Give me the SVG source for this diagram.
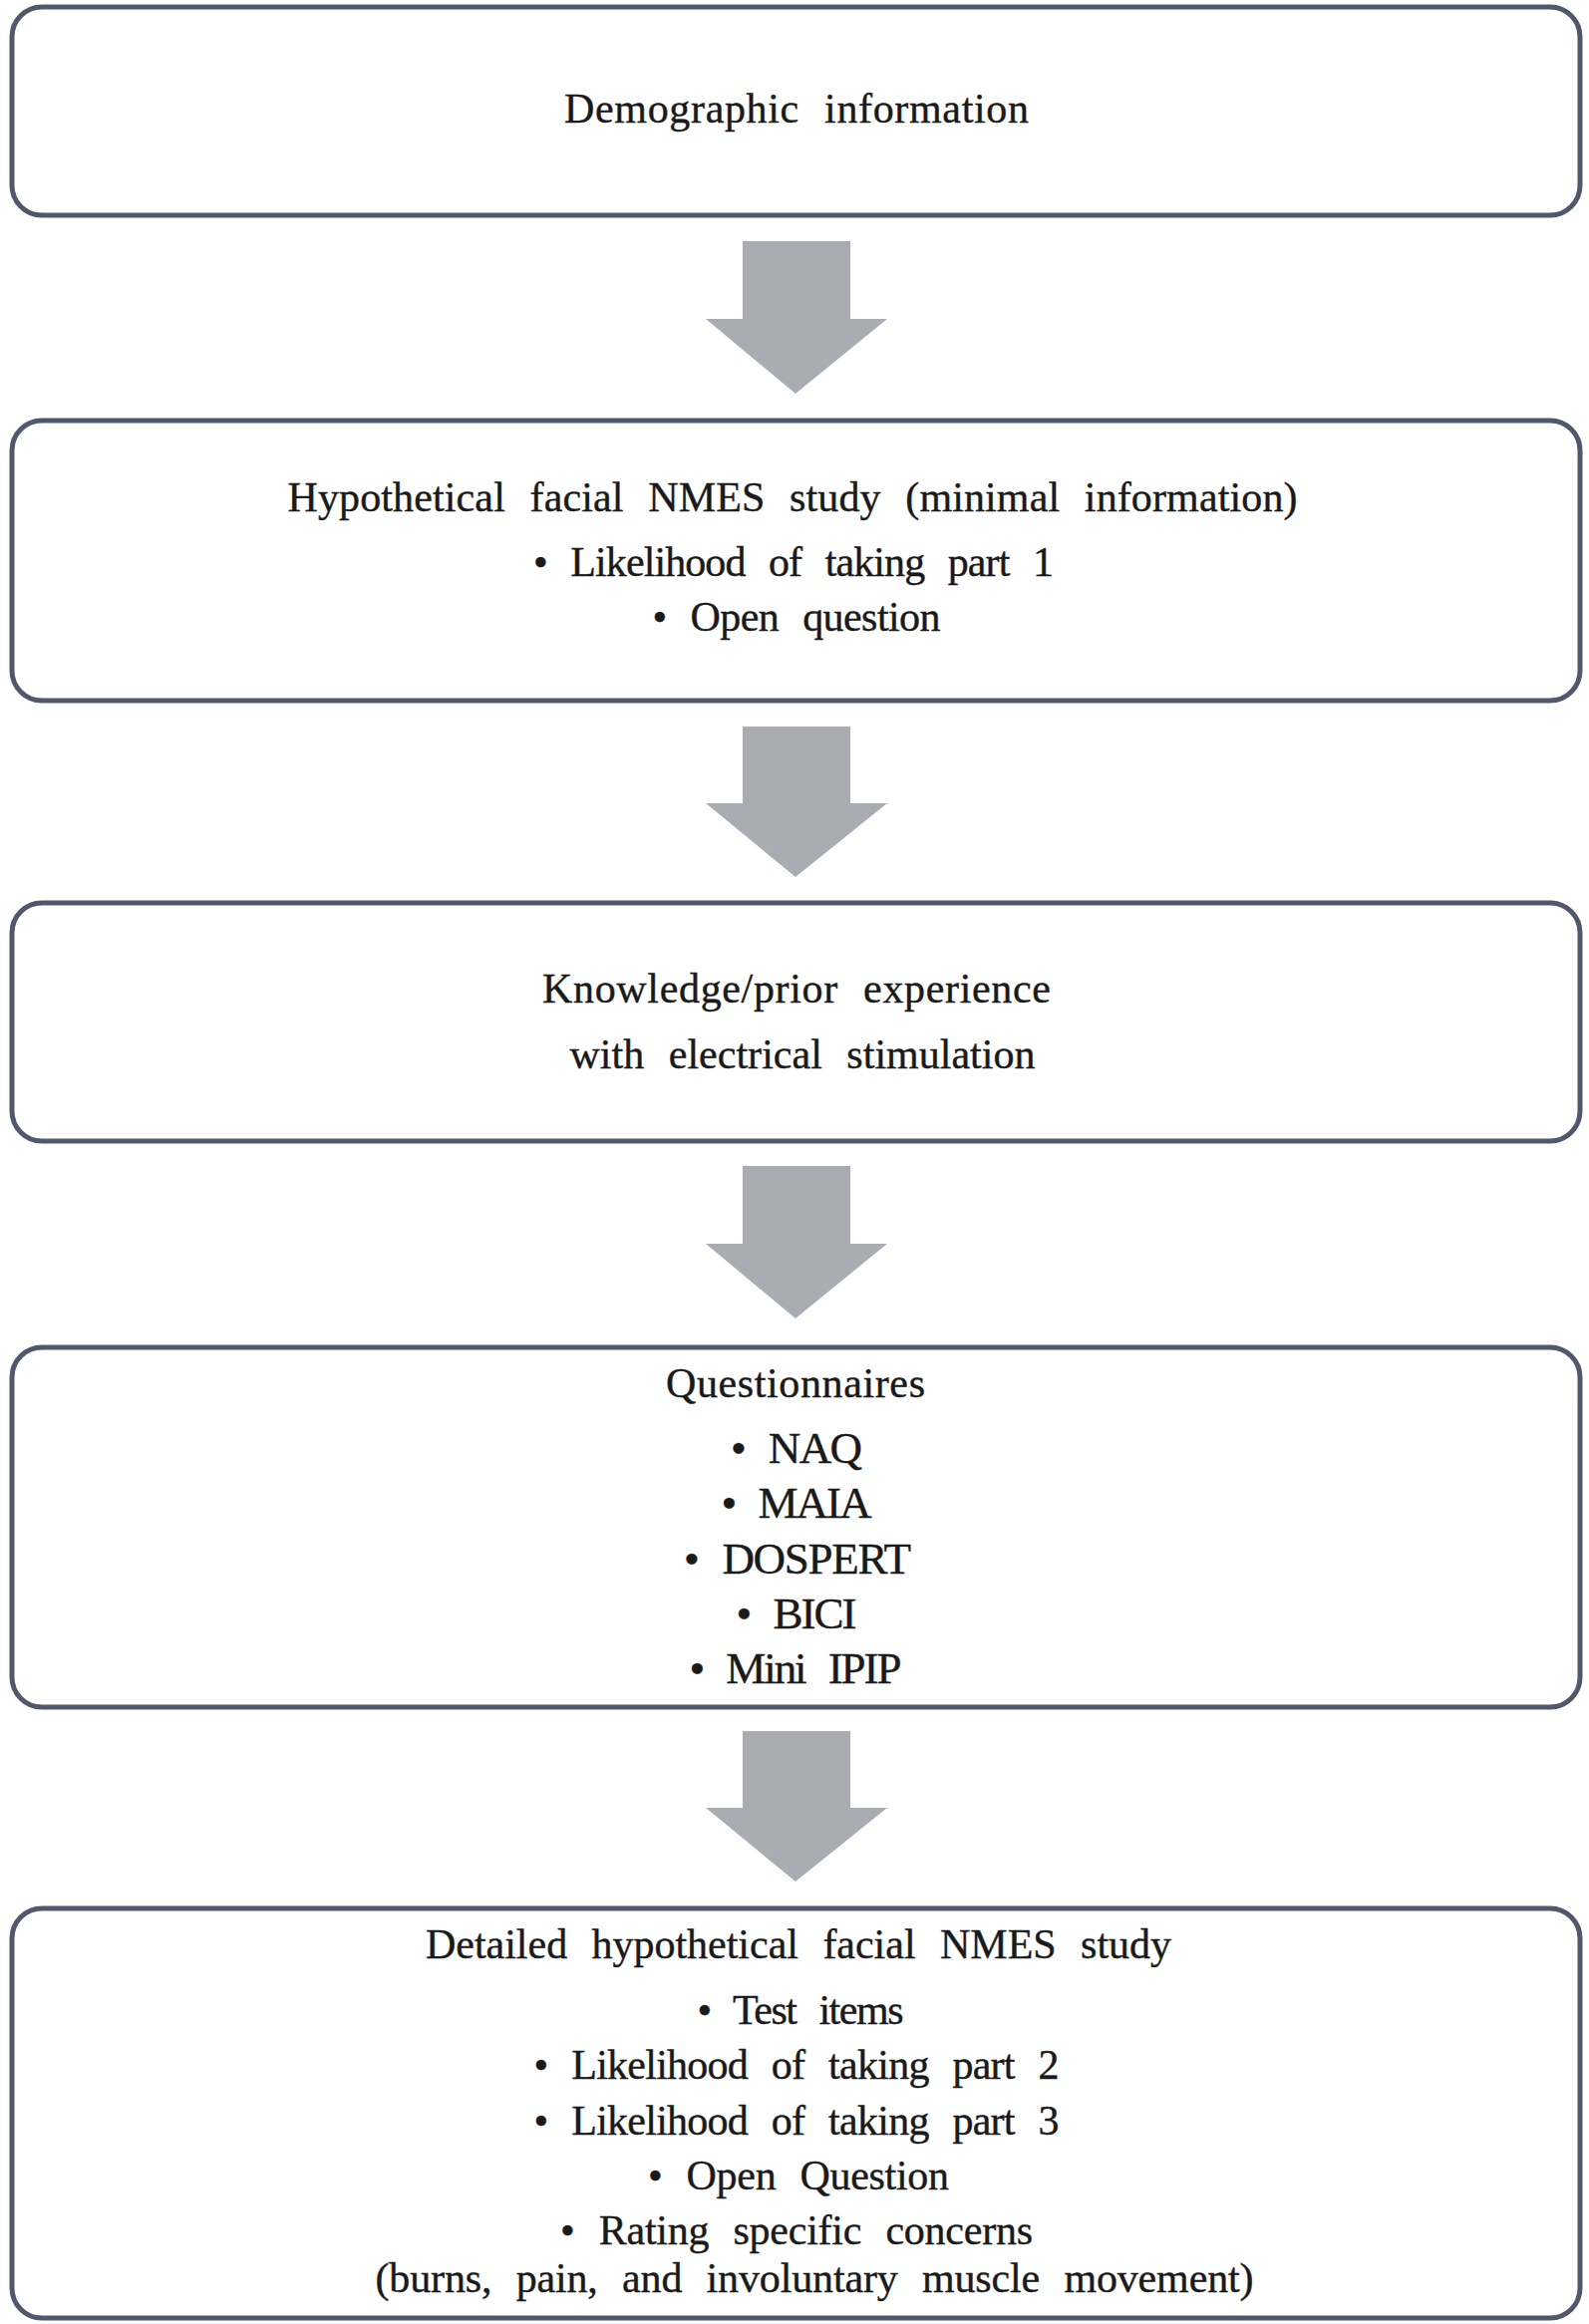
<svg xmlns="http://www.w3.org/2000/svg" width="1594" height="2332" viewBox="0 0 1594 2332">
<style>
.box{fill:#ffffff;stroke:#4f596b;stroke-width:5}
.arr{fill:#aaacb4}
.t text{fill:#1a1a1a;text-anchor:middle;word-spacing:14px;stroke:#1a1a1a;stroke-width:0.4}
</style>
<rect width="1594" height="2332" fill="#ffffff"/>
<g id="connectors">
<path class="arr" d="M745 242H853V320H890L798 395L708 320H745Z"/>
<path class="arr" d="M745 729H853V806H890L798 880L708 806H745Z"/>
<path class="arr" d="M745 1170H853V1248H890L798 1323L708 1248H745Z"/>
<path class="arr" d="M745 1737H853V1814H890L798 1888L708 1814H745Z"/>
</g>
<g class="t" font-family="'Liberation Serif', 'Times New Roman', 'DejaVu Serif', serif" font-size="42">
<g id="node1">
<rect class="box" x="12" y="7" width="1573" height="209" rx="30"/>
<text x="799" y="123" textLength="466">Demographic information</text>
</g>
<g id="node2">
<rect class="box" x="12" y="422" width="1573" height="281" rx="30"/>
<text x="795" y="513" textLength="1013">Hypothetical facial NMES study (minimal information)</text>
<text x="796" y="578" textLength="522">• Likelihood of taking part 1</text>
<text x="799" y="633" textLength="289">• Open question</text>
</g>
<g id="node3">
<rect class="box" x="12" y="906" width="1573" height="239" rx="30"/>
<text x="799" y="1006" textLength="510">Knowledge/prior experience</text>
<text x="805" y="1072" textLength="467">with electrical stimulation</text>
</g>
<g id="node4">
<rect class="box" x="12" y="1352" width="1573" height="361" rx="30"/>
<text x="798" y="1402" textLength="260">Questionnaires</text>
<text font-size="45" x="799" y="1468" textLength="132">• NAQ</text>
<text font-size="45" x="799" y="1523" textLength="151">• MAIA</text>
<text font-size="45" x="800" y="1579" textLength="228">• DOSPERT</text>
<text font-size="45" x="799" y="1634" textLength="121">• BICI</text>
<text font-size="45" x="798" y="1689" textLength="213">• Mini IPIP</text>
</g>
<g id="node5">
<rect class="box" x="12" y="1915" width="1573" height="411" rx="30"/>
<text x="801" y="1965" textLength="748">Detailed hypothetical facial NMES study</text>
<text x="803" y="2031" textLength="207">• Test items</text>
<text x="799" y="2086" textLength="527">• Likelihood of taking part 2</text>
<text x="799" y="2142" textLength="527">• Likelihood of taking part 3</text>
<text x="801" y="2197" textLength="302">• Open Question</text>
<text x="799" y="2252" textLength="474">• Rating specific concerns</text>
<text x="817" y="2300" textLength="881">(burns, pain, and involuntary muscle movement)</text>
</g>
</g>
</svg>
